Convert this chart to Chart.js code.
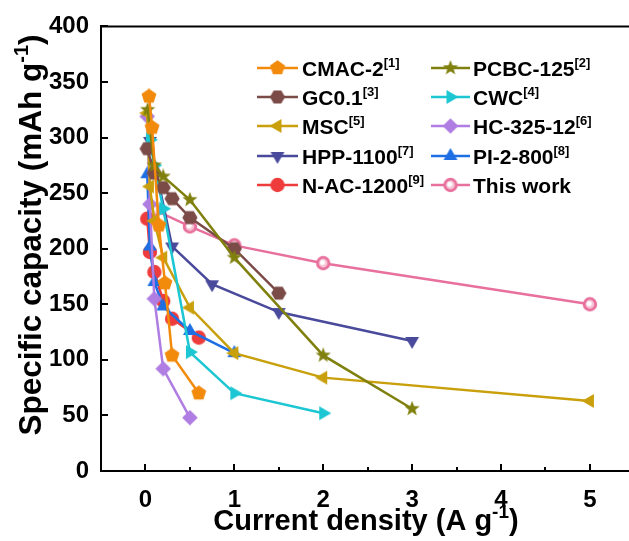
<!DOCTYPE html>
<html>
<head>
<meta charset="utf-8">
<script src="https://cdn.jsdelivr.net/npm/chart.js@4.4.0/dist/chart.umd.min.js"></script>
<style>
    html, body { margin: 0; padding: 0; background: #fff; }
    #wrap { width: 629px; height: 541px; position: relative; }
</style>
</head>
<body>
<div id="wrap"><canvas id="capChart" width="629" height="541"></canvas></div>
<script>
// series data (x = current density A/g, y = capacity mAh/g)
const cmacX = [0.04, 0.075, 0.15, 0.22, 0.3, 0.6];
const cmacY = [337, 309, 221, 169, 104, 70];
const pcbcX = [0.025, 0.1, 0.2, 0.5, 1, 2, 3];
const pcbcY = [325, 275, 265, 244, 192, 104, 56];
const gcX = [0.02, 0.1, 0.2, 0.3, 0.5, 1, 1.5];
const gcY = [290, 268, 255, 245, 228, 200, 160];
const cwcX = [0.05, 0.1, 0.2, 0.5, 1, 2];
const cwcY = [298, 275, 236, 107, 70, 52];
const mscX = [0.02, 0.05, 0.1, 0.2, 0.5, 1, 2, 5];
const mscY = [322, 256, 225, 192, 147, 106, 84, 63];
const hcX = [0.02, 0.05, 0.1, 0.2, 0.5];
const hcY = [319, 240, 155, 92, 48];
const hppX = [0.05, 0.3, 0.75, 1.5, 3];
const hppY = [297, 202, 168, 143, 117];
const piX = [0.02, 0.05, 0.1, 0.2, 0.5, 1];
const piY = [267, 202, 170, 148, 126, 106];
const nacX = [0.02, 0.05, 0.1, 0.2, 0.3, 0.6];
const nacY = [227, 197, 179, 153, 137, 120];
const thisX = [0.1, 0.5, 1, 2, 5];
const thisY = [235, 220, 203, 187, 150];

const xTicks = [0, 1, 2, 3, 4, 5];
const xMinorTicks = [0.5, 1.5, 2.5, 3.5, 4.5];
const yTicks = [0, 50, 100, 150, 200, 250, 300, 350, 400];

const FONT = "'Liberation Sans', Arial, sans-serif";

// legend order: left column then right column, row by row
const series = [
    { name: "CMAC-2", ref: "[1]", xs: cmacX, ys: cmacY, color: "#F28A0C", shape: "pentagon" },
    { name: "PCBC-125", ref: "[2]", xs: pcbcX, ys: pcbcY, color: "#80800E", shape: "star" },
    { name: "GC0.1", ref: "[3]", xs: gcX, ys: gcY, color: "#7B4B47", shape: "hexagon" },
    { name: "CWC", ref: "[4]", xs: cwcX, ys: cwcY, color: "#1CC6D2", shape: "right" },
    { name: "MSC", ref: "[5]", xs: mscX, ys: mscY, color: "#C9A00C", shape: "left" },
    { name: "HC-325-12", ref: "[6]", xs: hcX, ys: hcY, color: "#B07DE2", shape: "diamond" },
    { name: "HPP-1100", ref: "[7]", xs: hppX, ys: hppY, color: "#4A4A9C", shape: "down" },
    { name: "PI-2-800", ref: "[8]", xs: piX, ys: piY, color: "#1E6FE4", shape: "up" },
    { name: "N-AC-1200", ref: "[9]", xs: nacX, ys: nacY, color: "#EE3C3C", shape: "circle" },
    { name: "This work", ref: "", xs: thisX, ys: thisY, color: "#E8709C", shape: "ring" },
];

function polygon(ctx, n, r, startDeg) {
    for (let i = 0; i < n; i++) {
        const a = (startDeg + (360 / n) * i) * Math.PI / 180;
        const px = r * Math.cos(a), py = r * Math.sin(a);
        i === 0 ? ctx.moveTo(px, py) : ctx.lineTo(px, py);
    }
    ctx.closePath();
}

function makeMarker(shape, color, size) {
    const c = document.createElement("canvas");
    c.width = size;
    c.height = size;
    const ctx = c.getContext("2d");
    const r = size / 2;
    ctx.translate(r, r);
    ctx.fillStyle = color;
    ctx.beginPath();
    switch (shape) {
        case "pentagon": polygon(ctx, 5, r * 0.98, -90); break;
        case "hexagon": polygon(ctx, 6, r * 0.95, 0); break;
        case "up": polygon(ctx, 3, r, -90); break;
        case "down": polygon(ctx, 3, r, 90); break;
        case "left": polygon(ctx, 3, r, 180); break;
        case "right": polygon(ctx, 3, r, 0); break;
        case "diamond": polygon(ctx, 4, r * 0.98, -90); break;
        case "star":
            for (let i = 0; i < 10; i++) {
                const rr = i % 2 === 0 ? r : r * 0.42;
                const a = (-90 + 36 * i) * Math.PI / 180;
                i === 0 ? ctx.moveTo(rr * Math.cos(a), rr * Math.sin(a)) : ctx.lineTo(rr * Math.cos(a), rr * Math.sin(a));
            }
            ctx.closePath();
            break;
        default:
            ctx.arc(0, 0, r * 0.9, 0, Math.PI * 2);
    }
    ctx.fill();
    if (shape === "ring") {
        ctx.beginPath();
        ctx.fillStyle = "#F7C4D6";
        ctx.arc(0, 0, r * 0.55, 0, Math.PI * 2);
        ctx.fill();
        ctx.beginPath();
        ctx.fillStyle = "#FFFFFF";
        ctx.arc(-r * 0.1, -r * 0.1, r * 0.32, 0, Math.PI * 2);
        ctx.fill();
    }
    return c;
}

series.forEach((s) => {
    s.marker = makeMarker(s.shape, s.color, 16);
});

const datasets = series.map((s) => ({
    label: s.name,
    data: s.xs.map((x, i) => ({ x: x, y: s.ys[i] })),
    borderColor: s.color,
    backgroundColor: s.color,
    borderWidth: 2.5,
    pointStyle: s.marker,
    pointRadius: 8,
    pointHoverRadius: 8,
    tension: 0,
    fill: false,
}));

// draws text with superscript parts: parts = [[text, isSup], ...]
function drawRich(ctx, parts, x, y, size, align) {
    const supSize = Math.round(size * 0.64);
    let total = 0;
    parts.forEach(([t, sup]) => {
        ctx.font = `bold ${sup ? supSize : size}px ${FONT}`;
        total += ctx.measureText(t).width;
    });
    let cx = align === "center" ? x - total / 2 : x;
    ctx.textBaseline = "alphabetic";
    ctx.textAlign = "left";
    parts.forEach(([t, sup]) => {
        ctx.font = `bold ${sup ? supSize : size}px ${FONT}`;
        ctx.fillText(t, cx, sup ? y - size * 0.42 : y);
        cx += ctx.measureText(t).width;
    });
}

const framePlugin = {
    id: "frameAndLegend",
    afterDraw(chart) {
        const ctx = chart.ctx;
        const area = chart.chartArea;
        const xs = chart.scales.x;
        const ys = chart.scales.y;
        ctx.save();
        ctx.strokeStyle = "#000";
        ctx.fillStyle = "#000";
        ctx.lineWidth = 2;

        // top frame line
        ctx.beginPath();
        ctx.moveTo(area.left, area.top);
        ctx.lineTo(chart.width, area.top);
        ctx.stroke();

        // inward ticks
        ctx.beginPath();
        xTicks.forEach((v) => {
            const px = Math.round(xs.getPixelForValue(v));
            ctx.moveTo(px, area.bottom);
            ctx.lineTo(px, area.bottom - 7);
        });
        xMinorTicks.forEach((v) => {
            const px = Math.round(xs.getPixelForValue(v));
            ctx.moveTo(px, area.bottom);
            ctx.lineTo(px, area.bottom - 4);
        });
        yTicks.forEach((v) => {
            const py = Math.round(ys.getPixelForValue(v));
            ctx.moveTo(area.left, py);
            ctx.lineTo(area.left + 7, py);
        });
        ctx.stroke();

        // axis titles
        drawRich(ctx, [["Current density (A g", false], ["-1", true], [")", false]], 366, 530, 29, "center");
        ctx.save();
        ctx.translate(41, 235);
        ctx.rotate(-Math.PI / 2);
        drawRich(ctx, [["Specific capacity (mAh g", false], ["-1", true], [")", false]], 0, 0, 31.5, "center");
        ctx.restore();

        // legend
        const rowsY = [68, 97, 126, 156, 185];
        const cols = [
            { x1: 257, x2: 298, tx: 302 },
            { x1: 431, x2: 470, tx: 473 },
        ];
        series.forEach((s, i) => {
            const col = cols[i % 2];
            const y = rowsY[Math.floor(i / 2)];
            ctx.strokeStyle = s.color;
            ctx.lineWidth = 2.5;
            ctx.beginPath();
            ctx.moveTo(col.x1, y);
            ctx.lineTo(col.x2, y);
            ctx.stroke();
            const mx = (col.x1 + col.x2) / 2;
            ctx.drawImage(s.marker, mx - 8, y - 8);
            ctx.fillStyle = "#000";
            const parts = [[s.name, false]];
            if (s.ref) parts.push([s.ref, true]);
            drawRich(ctx, parts, col.tx, y + 8, 21, "left");
        });
        ctx.restore();
    },
};

const tickFont = { family: FONT, size: 24, weight: "bold" };

new Chart(document.getElementById("capChart"), {
    type: "line",
    data: { datasets: datasets },
    options: {
        responsive: false,
        animation: false,
        events: [],
        layout: { autoPadding: false, padding: { top: 25, right: 0, bottom: 0, left: 0 } },
        plugins: {
            legend: { display: false },
            tooltip: { enabled: false },
        },
        scales: {
            x: {
                type: "linear",
                min: -0.5,
                max: 5.44,
                afterBuildTicks: (scale) => {
                    scale.ticks = xTicks.map((v) => ({ value: v }));
                },
                afterFit: (scale) => {
                    scale.height = 70;
                    scale.paddingLeft = 0;
                    scale.paddingRight = 0;
                },
                grid: { display: false, drawTicks: false },
                border: { display: true, color: "#000", width: 2 },
                ticks: { color: "#000", font: tickFont, padding: 15, maxRotation: 0 },
            },
            y: {
                type: "linear",
                min: 0,
                max: 400,
                afterBuildTicks: (scale) => {
                    scale.ticks = yTicks.map((v) => ({ value: v }));
                },
                afterFit: (scale) => {
                    scale.width = 101;
                },
                grid: { display: false, drawTicks: false },
                border: { display: true, color: "#000", width: 2 },
                ticks: { color: "#000", font: tickFont, padding: 12 },
            },
        },
    },
    plugins: [framePlugin],
});
</script>
</body>
</html>
